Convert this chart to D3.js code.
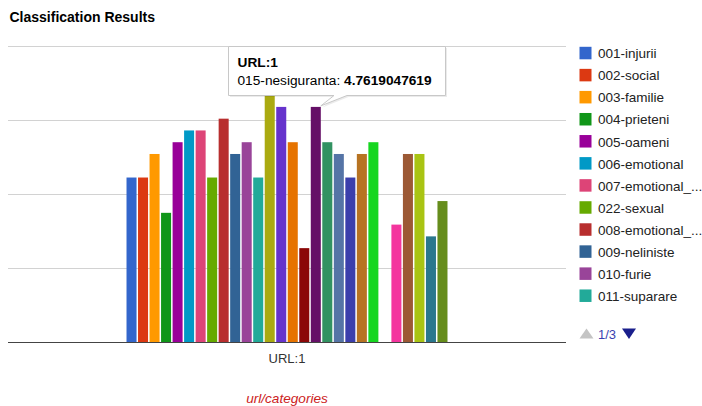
<!DOCTYPE html>
<html>
<head>
<meta charset="utf-8">
<script src="https://cdn.jsdelivr.net/npm/d3@7"></script>
<style>
  html, body { margin: 0; padding: 0; background: #fff; }
  svg { display: block; font-family: Arial, "Liberation Sans", sans-serif; }
</style>
</head>
<body>
<svg id="chart" width="702" height="406"></svg>
<script>
// ---- data ----
const categories = ["URL:1"];
const seriesNames = [
  "001-injurii", "002-social", "003-familie", "004-prieteni", "005-oameni",
  "006-emotional", "007-emotional_...", "022-sexual", "008-emotional_...", "009-neliniste",
  "010-furie", "011-suparare", "012", "013", "014", "016", "015-nesiguranta",
  "017", "018", "019", "020", "021", "023", "024", "025", "026", "027", "028"
];
const seriesValues = [
  3.3333333333, 3.3333333333, 3.8095238095, 2.6190476190, 4.0476190476,
  4.2857142857, 4.2857142857, 3.3333333333, 4.5238095238, 3.8095238095,
  4.0476190476, 3.3333333333, 5.7142857143, 4.7619047619, 4.0476190476,
  1.9047619048, 4.7619047619, 4.0476190476, 3.8095238095, 3.3333333333,
  3.8095238095, 4.0476190476, 0, 2.3809523810, 3.8095238095,
  3.8095238095, 2.1428571429, 2.8571428571
];
const colors = [
  "#3366cc", "#dc3912", "#ff9900", "#109618", "#990099", "#0099c6", "#dd4477",
  "#66aa00", "#b82e2e", "#316395", "#994499", "#22aa99", "#aaaa11", "#6633cc",
  "#e67300", "#8b0707", "#651067", "#329262", "#5574a6", "#3b3eac", "#b77322",
  "#16d620", "#b91383", "#f4359e", "#9c5935", "#a9c413", "#2a778d", "#668d1c"
];
const yTicks = [0, 1.5, 3, 4.5, 6];
const legendPage = "1/3";
const legendCount = 12;
const tooltipSeries = 16;

// ---- layout ----
const svg = d3.select("#chart");
const area = { left: 8, right: 566, top: 45.7, bottom: 342.3 };

svg.append("text")
  .attr("x", 9.5).attr("y", 21.5)
  .attr("font-size", 14).attr("font-weight", "bold").attr("fill", "#000")
  .text("Classification Results");

const y = d3.scaleLinear().domain([0, 6]).range([area.bottom, area.top]);
const x0 = d3.scaleBand().domain(categories).range([area.left, area.right])
  .paddingInner(0).paddingOuter(0.3652);
const x1 = d3.scaleBand().domain(d3.range(seriesNames.length))
  .range([0, x0.bandwidth()]).paddingInner(0.13).paddingOuter(0.065);

// gridlines
svg.append("g").selectAll("line").data(yTicks.filter(t => t > 0)).join("line")
  .attr("x1", area.left).attr("x2", area.right)
  .attr("y1", d => Math.round(y(d)) + 0.5).attr("y2", d => Math.round(y(d)) + 0.5)
  .attr("stroke", "#d2d2d2").attr("stroke-width", 1);

// bars
const g = svg.append("g");
categories.forEach((cat, ci) => {
  g.selectAll("rect.c" + ci).data(seriesValues).join("rect")
    .attr("x", (d, i) => x0(cat) + x1(i))
    .attr("width", x1.bandwidth())
    .attr("y", d => y(d))
    .attr("height", d => y(0) - y(d))
    .attr("fill", (d, i) => colors[i]);
});

// baseline
svg.append("line")
  .attr("x1", area.left).attr("x2", area.right)
  .attr("y1", Math.round(y(0)) + 0.5).attr("y2", Math.round(y(0)) + 0.5)
  .attr("stroke", "#444").attr("stroke-width", 1);

// category axis
const xAxis = d3.axisBottom(x0).tickSize(0).tickPadding(0);
const ax = svg.append("g").attr("transform", `translate(0,${area.bottom + 10})`).call(xAxis);
ax.select(".domain").remove();
ax.selectAll("text").attr("font-size", 13).attr("fill", "#333")
  .attr("font-family", "Arial, 'Liberation Sans', sans-serif").attr("dy", "0.85em");

// footer link text
svg.append("text")
  .attr("x", x0("URL:1") + x0.bandwidth() / 2).attr("y", 403)
  .attr("text-anchor", "middle").attr("font-size", 13.6)
  .attr("font-style", "italic").attr("fill", "#cc2222")
  .text("url/categories");

// legend
const legend = svg.append("g");
const lg = legend.selectAll("g").data(seriesNames.slice(0, legendCount)).join("g")
  .attr("transform", (d, i) => `translate(579.5,${53.3 + i * 22.06})`);
lg.append("rect").attr("x", 0).attr("y", -6.5).attr("width", 12).attr("height", 12.5)
  .attr("fill", (d, i) => colors[i]);
lg.append("text").attr("x", 18.5).attr("y", 5).attr("font-size", 13.5).attr("fill", "#222")
  .text(d => d);

// pager
svg.append("path").attr("d", "M579.5,338.5 L593.5,338.5 L586.5,328.5 Z").attr("fill", "#c4c4c4");
svg.append("text").attr("x", 598).attr("y", 338.5).attr("font-size", 13).attr("fill", "#3a3fb0")
  .text(legendPage);
svg.append("path").attr("d", "M622,328.5 L636,328.5 L629,339 Z").attr("fill", "#1a1f8c");

// tooltip
const tipX = x0(categories[0]) + x1(tooltipSeries) + x1.bandwidth();
const tipY = y(seriesValues[tooltipSeries]) - 1;
const tip = svg.append("g");
tip.append("path")
  .attr("d", `M228.5,46.5 L445.5,46.5 L445.5,95.5 L347,95.5 L${tipX},${tipY} L334,95.5 L228.5,95.5 Z`)
  .attr("fill", "#000").attr("opacity", 0.08).attr("transform", "translate(1.5,1.5)");
tip.append("path")
  .attr("d", `M228.5,46.5 L445.5,46.5 L445.5,95.5 L347,95.5 L${tipX},${tipY} L334,95.5 L228.5,95.5 Z`)
  .attr("fill", "#fff").attr("stroke", "#c8c8c8").attr("stroke-width", 1);
tip.append("text").attr("x", 237.5).attr("y", 67.3).attr("font-size", 13.7)
  .attr("font-weight", "bold").attr("fill", "#000").text(categories[0]);
const t2 = tip.append("text").attr("x", 237.5).attr("y", 85).attr("font-size", 13.7).attr("fill", "#000");
t2.append("tspan").text(seriesNames[tooltipSeries] + ": ");
t2.append("tspan").attr("font-weight", "bold").text(seriesValues[tooltipSeries].toFixed(10));
</script>
</body>
</html>
